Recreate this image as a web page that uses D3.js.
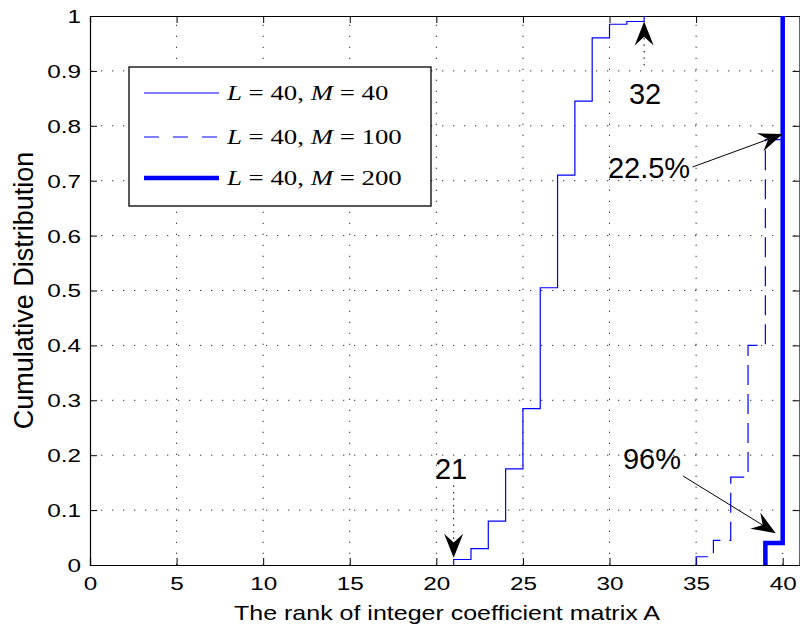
<!DOCTYPE html>
<html>
<head>
<meta charset="utf-8">
<script src="https://cdn.jsdelivr.net/npm/d3@7"></script>
<style>
  body { margin: 0; background: #fff; }
  text { font-family: "Liberation Sans", Arial, sans-serif; }
</style>
</head>
<body>
<div id="chart"></div>
<script>
// size of the figure and of the axes box
var width = 800,
    height = 632;
var margin = {top: 16, right: 0, bottom: 67, left: 90};

// values (rank where the cdf steps, cdf value after the step)
var rankM40 = [21, 22, 23, 24, 25, 26, 27, 28, 29, 30, 31, 32];
var cdfM40  = [0.01, 0.03, 0.08, 0.175, 0.285, 0.505, 0.71, 0.845, 0.96, 0.985, 0.99, 1];
var rankM100 = [35, 36, 37, 38, 39, 40];
var cdfM100  = [0.015, 0.045, 0.16, 0.4, 0.775, 1];
var rankM200 = [39, 40];
var cdfM200  = [0.04, 1];

var legendM = ["40", "100", "200"];
var xTicks = [0, 5, 10, 15, 20, 25, 30, 35, 40];
var yTicks = [0, 0.1, 0.2, 0.3, 0.4, 0.5, 0.6, 0.7, 0.8, 0.9, 1];
var yTickLabels = ["0", "0.1", "0.2", "0.3", "0.4", "0.5", "0.6", "0.7", "0.8", "0.9", "1"];

// annotations, in data units
var noteText = ["32", "21", "22.5%", "96%"];
var noteX    = [32.05, 20.85, 32.28, 32.45];
var noteY    = [0.84, 0.157, 0.705, 0.174];
var arrowFrom = [[32, 0.91], [21, 0.145], [34.8, 0.725], [34.25, 0.162]];
var arrowTo   = [[32, 0.99], [21, 0.013], [40, 0.785], [39.6, 0.058]];

var SX = 1.28; // tick text in the figure is drawn wide

var x = d3.scaleLinear().domain([0, 41]).range([margin.left, width - margin.right]);
var y = d3.scaleLinear().domain([0, 1]).range([height - margin.bottom, margin.top]);

var svg = d3.select("#chart")
    .append("svg")
    .attr("width", width)
    .attr("height", height);

var x0 = margin.left, x1 = width - margin.right;
var y0 = height - margin.bottom, y1 = margin.top;

// dotted grid
svg.append("g").selectAll("line")
    .data(xTicks.slice(1))
    .enter().append("line")
    .attr("x1", function(d) { return x(d); })
    .attr("x2", function(d) { return x(d); })
    .attr("y1", y0).attr("y2", y1)
    .attr("stroke", "#333").attr("stroke-width", 1)
    .attr("stroke-dasharray", "1.3,9.7");
svg.append("g").selectAll("line")
    .data(yTicks.slice(1, -1))
    .enter().append("line")
    .attr("y1", function(d) { return y(d); })
    .attr("y2", function(d) { return y(d); })
    .attr("x1", x0).attr("x2", x1)
    .attr("stroke", "#333").attr("stroke-width", 1)
    .attr("stroke-dasharray", "1.3,9.7");

// axes with inward ticks on all four sides
var xAxis = d3.axisBottom(x).tickValues(xTicks).tickSize(-7).tickPadding(20).tickFormat(d3.format("d"));
var gx = svg.append("g").attr("transform", "translate(0," + y0 + ")").call(xAxis);
svg.append("g").attr("transform", "translate(0," + y1 + ")")
    .call(d3.axisTop(x).tickValues(xTicks).tickSize(-7).tickFormat(""));
var yAxis = d3.axisLeft(y).tickValues(yTicks).tickSize(-7).tickPadding(9)
    .tickFormat(function(d, i) { return yTickLabels[i]; });
var gy = svg.append("g").attr("transform", "translate(" + x0 + ",0)").call(yAxis);
svg.append("g").attr("transform", "translate(" + (x1 - 0.5) + ",0)")
    .call(d3.axisRight(y).tickValues(yTicks).tickSize(-7).tickFormat(""));

svg.selectAll(".domain").attr("stroke", "#000").attr("stroke-width", 1.2);
svg.selectAll(".tick line").attr("stroke", "#000").attr("stroke-width", 1);

gx.selectAll("text")
    .style("font-size", "19px")
    .attr("fill", "#000")
    .attr("y", 12)
    .attr("transform", "scale(" + SX + ",1)");
gy.selectAll("text")
    .style("font-size", "19px")
    .attr("fill", "#000")
    .attr("x", -9 / SX)
    .attr("dy", "0.34em")
    .attr("transform", "scale(" + SX + ",1)");

// axis titles
svg.append("text")
    .attr("transform", "translate(" + 447 + "," + 620 + ") scale(1.19,1)")
    .attr("text-anchor", "middle")
    .style("font-size", "21px")
    .text("The rank of integer coefficient matrix A");

svg.append("text")
    .attr("transform", "translate(33," + ((y0 + y1) / 2) + ") rotate(-90)")
    .attr("text-anchor", "middle")
    .style("font-size", "27px")
    .text("Cumulative Distribution");

// step curves
function stairs(ranks, cdf) {
    var pts = [[ranks[0], 0]];
    for (var i = 0; i < ranks.length; i++) pts.push([ranks[i], cdf[i]]);
    return pts;
}
var line = d3.line()
    .x(function(d) { return x(d[0]); })
    .y(function(d) { return y(d[1]); })
    .curve(d3.curveStepAfter);

svg.append("path")
    .attr("d", line(stairs(rankM40, cdfM40)))
    .attr("fill", "none").attr("stroke", "#0000ff").attr("stroke-width", 1.2);
svg.append("path")
    .attr("d", line(stairs(rankM100, cdfM100)))
    .attr("fill", "none").attr("stroke", "#0000ff").attr("stroke-width", 1.2)
    .attr("stroke-dasharray", "20,9");
svg.append("path")
    .attr("d", line(stairs(rankM200, cdfM200)))
    .attr("fill", "none").attr("stroke", "#0000ff").attr("stroke-width", 4.5);

// arrows
function arrow(a, b, dotted) {
    var ax = x(a[0]), ay = y(a[1]), bx = x(b[0]), by = y(b[1]);
    var ang = Math.atan2(by - ay, bx - ax);
    var ux = Math.cos(ang), uy = Math.sin(ang);
    var len = 24, hw = 9.5;
    var baseX = bx - len * ux, baseY = by - len * uy;
    var notchX = bx - 0.64 * len * ux, notchY = by - 0.64 * len * uy;
    svg.append("line")
        .attr("x1", ax).attr("y1", ay)
        .attr("x2", notchX).attr("y2", notchY)
        .attr("stroke", "#000").attr("stroke-width", 1)
        .attr("stroke-dasharray", dotted ? "1.5,5" : null);
    var head = [[bx, by],
                [baseX - hw * uy, baseY + hw * ux],
                [notchX, notchY],
                [baseX + hw * uy, baseY - hw * ux]];
    svg.append("path")
        .attr("d", "M" + head.join("L") + "Z")
        .attr("fill", "#000");
}
for (var i = 0; i < noteText.length; i++) {
    arrow(arrowFrom[i], arrowTo[i], i < 2);
    svg.append("text")
        .attr("x", x(noteX[i]))
        .attr("y", y(noteY[i]))
        .attr("text-anchor", "middle")
        .style("font-size", "29px")
        .text(noteText[i]);
}

// legend
var lg = svg.append("g");
lg.append("rect")
    .attr("x", 129).attr("y", 67)
    .attr("width", 302).attr("height", 139)
    .attr("fill", "#fff").attr("stroke", "#000").attr("stroke-width", 1.3);
var rowY = [93, 137, 178];
var rowDash = [null, "15,14", null];
var rowW = [1.2, 1.2, 4.5];
legendM.forEach(function(m, i) {
    lg.append("line")
        .attr("x1", 144).attr("x2", 219)
        .attr("y1", rowY[i]).attr("y2", rowY[i])
        .attr("stroke", "#0000ff").attr("stroke-width", rowW[i])
        .attr("stroke-dasharray", rowDash[i]);
    var t = lg.append("text")
        .attr("transform", "translate(227," + (rowY[i] + 7) + ") scale(1.22,1)")
        .style("font-family", "'Liberation Serif', 'Times New Roman', serif")
        .style("font-size", "22px")
        .style("white-space", "pre");
    t.append("tspan").style("font-style", "italic").text("L");
    t.append("tspan").text(" = 40, ");
    t.append("tspan").style("font-style", "italic").text("M");
    t.append("tspan").text(" = " + m);
});
</script>
</body>
</html>
